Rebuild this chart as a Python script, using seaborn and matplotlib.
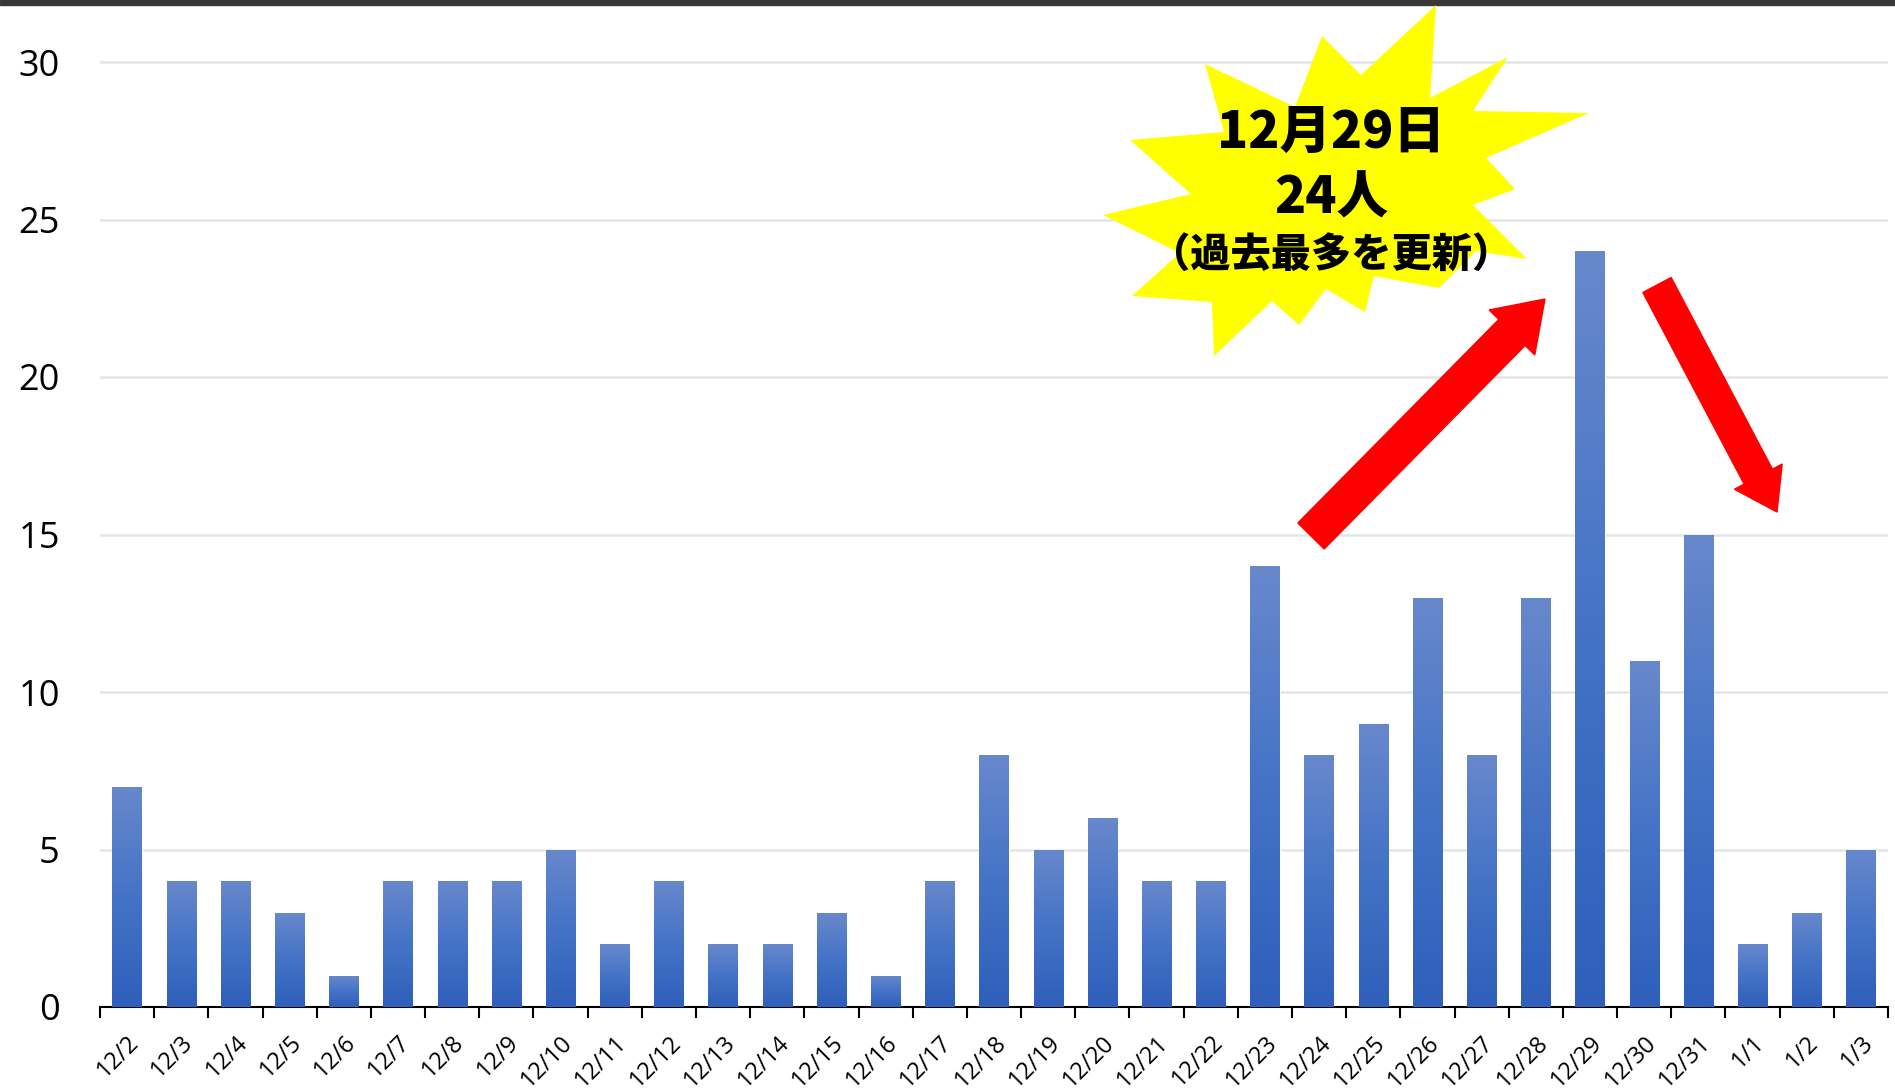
import numpy as np
import pandas as pd
import matplotlib
matplotlib.use("Agg")
import matplotlib.pyplot as plt
import matplotlib.patches as mpatches
from matplotlib.colors import LinearSegmentedColormap
import seaborn as sns

# daily counts, 12/2 .. 1/3
dates = ["12/2", "12/3", "12/4", "12/5", "12/6", "12/7", "12/8", "12/9", "12/10",
         "12/11", "12/12", "12/13", "12/14", "12/15", "12/16", "12/17", "12/18",
         "12/19", "12/20", "12/21", "12/22", "12/23", "12/24", "12/25", "12/26",
         "12/27", "12/28", "12/29", "12/30", "12/31", "1/1", "1/2", "1/3"]
counts = [7, 4, 4, 3, 1, 4, 4, 4, 5, 2, 4, 2, 2, 3, 1, 4, 8, 5, 6, 4, 4,
          14, 8, 9, 13, 8, 13, 24, 11, 15, 2, 3, 5]
y_ticks = [0, 5, 10, 15, 20, 25, 30]
callout = ["12月29日", "24人", "（過去最多を更新）"]

W, H = 1895, 1092

sns.set_theme(style="white")
plt.rcParams["font.family"] = ["Open Sans", "DejaVu Sans"]

fig = plt.figure(figsize=(W / 100, H / 100), dpi=100)
ax = fig.add_axes([100 / W, 85 / H, 1788 / W, 31.5 * 30.3 / H])

df = pd.DataFrame({"date": dates, "count": counts})
sns.barplot(data=df, x="date", y="count", color="#4472c4", saturation=1,
            width=0.54, ax=ax, zorder=2)

# vertical gradient inside every bar
cmap = LinearSegmentedColormap.from_list("bar", ["#2e5fba", "#4473c6", "#6888cc"])
grad = np.linspace(0, 1, 256).reshape(-1, 1)
for bar in ax.patches:
    x0, y0 = bar.get_x(), bar.get_y()
    w, h = bar.get_width(), bar.get_height()
    im = ax.imshow(grad, cmap=cmap, origin="lower", aspect="auto",
                   extent=[x0, x0 + w, y0, y0 + h], zorder=3)
    im.set_clip_path(bar)

ax.set_xlim(-0.5, len(dates) - 0.5)
ax.set_ylim(0, 30.3)
ax.set_yticks(y_ticks)
ax.set_yticklabels([str(t) for t in y_ticks], fontsize=26)
ax.tick_params(axis="y", length=0, pad=29, labelcolor="black")
ax.yaxis.grid(True, color="#e2e5e9", linewidth=1.8)
ax.set_axisbelow(True)

ax.set_xticks(range(len(dates)))
ax.set_xticklabels(dates, rotation=45, ha="right", rotation_mode="anchor", fontsize=17)
ax.set_xticks(np.arange(-0.5, len(dates), 1), minor=True)
ax.tick_params(axis="x", which="major", length=0, pad=17, labelcolor="black")
ax.tick_params(axis="x", which="minor", length=8, width=1.5, color="black",
               direction="out", bottom=True)
ax.set_xlabel("")
ax.set_ylabel("")
for side in ["top", "right", "left"]:
    ax.spines[side].set_visible(False)
ax.spines["bottom"].set_color("black")
ax.spines["bottom"].set_linewidth(1.5)

# dark strip on top edge
fig.add_artist(mpatches.Rectangle((0, 1 - 5 / H), 1, 5 / H, transform=fig.transFigure,
                                  color="#3a3836", zorder=5))

# yellow starburst (pixel positions, top-left origin)
star_px = [(1322, 36), (1361, 75), (1436, 5), (1430, 98), (1508, 57), (1473, 111),
           (1589, 113), (1486, 158), (1515, 189), (1473, 205), (1527, 259), (1476, 251),
           (1439, 288), (1374, 276), (1365, 312), (1326, 289), (1299, 325), (1272, 301),
           (1214, 356), (1212, 302), (1132, 296), (1180, 253), (1103, 215), (1191, 194),
           (1130, 140), (1224, 132), (1205, 64), (1295, 107)]
star_in = [(x / 100, (H - y) / 100) for x, y in star_px]
fig.add_artist(mpatches.Polygon(star_in, closed=True, facecolor="#ffff00",
                                edgecolor="none", transform=fig.dpi_scale_trans, zorder=6))

cjk = ["Noto Sans CJK JP", "DejaVu Sans"]
fig.text(1331 / W, 1 - 133 / H, callout[0], family=cjk, fontsize=37, fontweight="heavy",
         color="black", ha="center", va="center", zorder=7)
fig.text(1331 / W, 1 - 198 / H, callout[1], family=cjk, fontsize=37, fontweight="heavy",
         color="black", ha="center", va="center", zorder=7)
fig.text(1331 / W, 1 - 256 / H, callout[2], family=cjk, fontsize=29, fontweight="heavy",
         color="black", ha="center", va="center", zorder=7)


def red_arrow(tail, tip, width, head_w, head_l):
    x0, y0 = tail[0] / 100, (H - tail[1]) / 100
    x1, y1 = tip[0] / 100, (H - tip[1]) / 100
    arr = mpatches.FancyArrow(x0, y0, x1 - x0, y1 - y0, width=width / 100,
                              head_width=head_w / 100, head_length=head_l / 100,
                              length_includes_head=True, color="#ff0000",
                              transform=fig.dpi_scale_trans, zorder=6)
    fig.add_artist(arr)


red_arrow((1311, 536), (1545, 299), 37, 64, 47)
red_arrow((1657, 285), (1777, 512), 32, 54, 40)

fig.savefig("out.png", dpi=100)
